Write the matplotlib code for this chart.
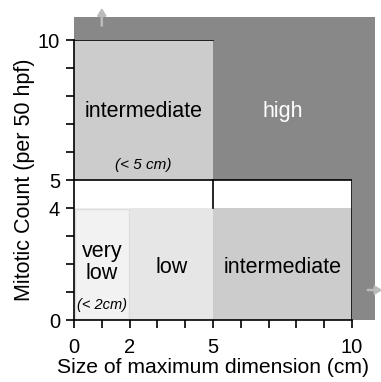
from matplotlib import pyplot as plt
from matplotlib.patches import Rectangle, FancyArrow

# regions: (x0, x1, y0, y1, colour)
region_x0 = [0, 2, 5, 0]
region_x1 = [2, 5, 10, 5]
region_y0 = [0, 0, 0, 5]
region_y1 = [4, 4, 4, 10]
region_fill = ["#f2f2f2", "#e6e6e6", "#cccccc", "#cccccc"]

tick_vals = list(range(0, 11))
x_labels = {0: "0", 2: "2", 5: "5", 10: "10"}
y_labels = {0: "0", 4: "4", 5: "5", 10: "10"}

plt.rcParams["font.family"] = ["Liberation Sans", "DejaVu Sans"]

fig = plt.figure(figsize=(3.81, 3.82), dpi=100)
ax = fig.add_axes([74 / 381, 62 / 382, 278 / 381, 280 / 382])
ax.set_xlim(0, 10)
ax.set_ylim(0, 10)

# dark "high" background, extends past the axes
ax.add_patch(Rectangle((0, 0), 10.83, 10.82, facecolor="#888888",
                       edgecolor="none", clip_on=False, zorder=0))
ax.add_patch(Rectangle((0, 0), 10, 5, facecolor="white",
                       edgecolor="none", zorder=1))

for x0, x1, y0, y1, c in zip(region_x0, region_x1, region_y0, region_y1, region_fill):
    ax.add_patch(Rectangle((x0, y0), x1 - x0, y1 - y0, facecolor=c,
                           edgecolor="none", zorder=2))
# very low box has a faint border
ax.add_patch(Rectangle((0.05, 0.02), 1.93, 3.96, facecolor="none",
                       edgecolor="#dddddd", lw=1, zorder=3))

# black borders
ax.plot([0, 5], [10, 10], color="black", lw=1.2, zorder=4)
ax.plot([0, 10], [5, 5], color="black", lw=1.2, zorder=4)
ax.plot([5, 5], [4, 5], color="black", lw=1.2, zorder=4)
ax.plot([10, 10], [0, 5], color="black", lw=1.2, zorder=4)

# arrows
ax.add_patch(FancyArrow(1, 10.5, 0, 0.6, width=0.04, head_width=0.3,
                        head_length=0.25, color="#bbbbbb", clip_on=False,
                        length_includes_head=True, zorder=5))
ax.add_patch(FancyArrow(10.55, 1.07, 0.5, 0, width=0.04, head_width=0.3,
                        head_length=0.25, color="#bbbbbb", clip_on=False,
                        length_includes_head=True, zorder=5))

# labels
big = 15.5
ax.text(2.5, 7.43, "intermediate", ha="center", va="center", fontsize=big, zorder=6)
ax.text(2.5, 5.52, "(< 5 cm)", ha="center", va="center", fontsize=11,
        style="italic", zorder=6)
ax.text(7.5, 7.43, "high", ha="center", va="center", fontsize=big,
        color="white", zorder=6)
ax.text(1, 2.05, "very\nlow", ha="center", va="center", fontsize=big,
        linespacing=1.05, zorder=6)
ax.text(1, 0.55, "(< 2cm)", ha="center", va="center", fontsize=10.5,
        style="italic", zorder=6)
ax.text(3.5, 1.86, "low", ha="center", va="center", fontsize=big, zorder=6)
ax.text(7.5, 1.86, "intermediate", ha="center", va="center", fontsize=big, zorder=6)

for s in ["top", "right"]:
    ax.spines[s].set_visible(False)
for s in ["left", "bottom"]:
    ax.spines[s].set_linewidth(1.2)
    ax.spines[s].set_zorder(7)

ax.set_xticks(tick_vals)
ax.set_xticklabels([x_labels.get(v, "") for v in tick_vals])
ax.set_yticks(tick_vals)
ax.set_yticklabels([y_labels.get(v, "") for v in tick_vals])
ax.tick_params(direction="out", length=6, width=1.2, labelsize=14.5)
ax.tick_params(axis="x", pad=7)
ax.tick_params(axis="y", pad=4)

ax.set_xlabel("Size of maximum dimension (cm)", fontsize=15.2, labelpad=1)
ax.set_ylabel("Mitotic Count (per 50 hpf)", fontsize=15.5, labelpad=2)

fig.savefig("out.png", dpi=100)
